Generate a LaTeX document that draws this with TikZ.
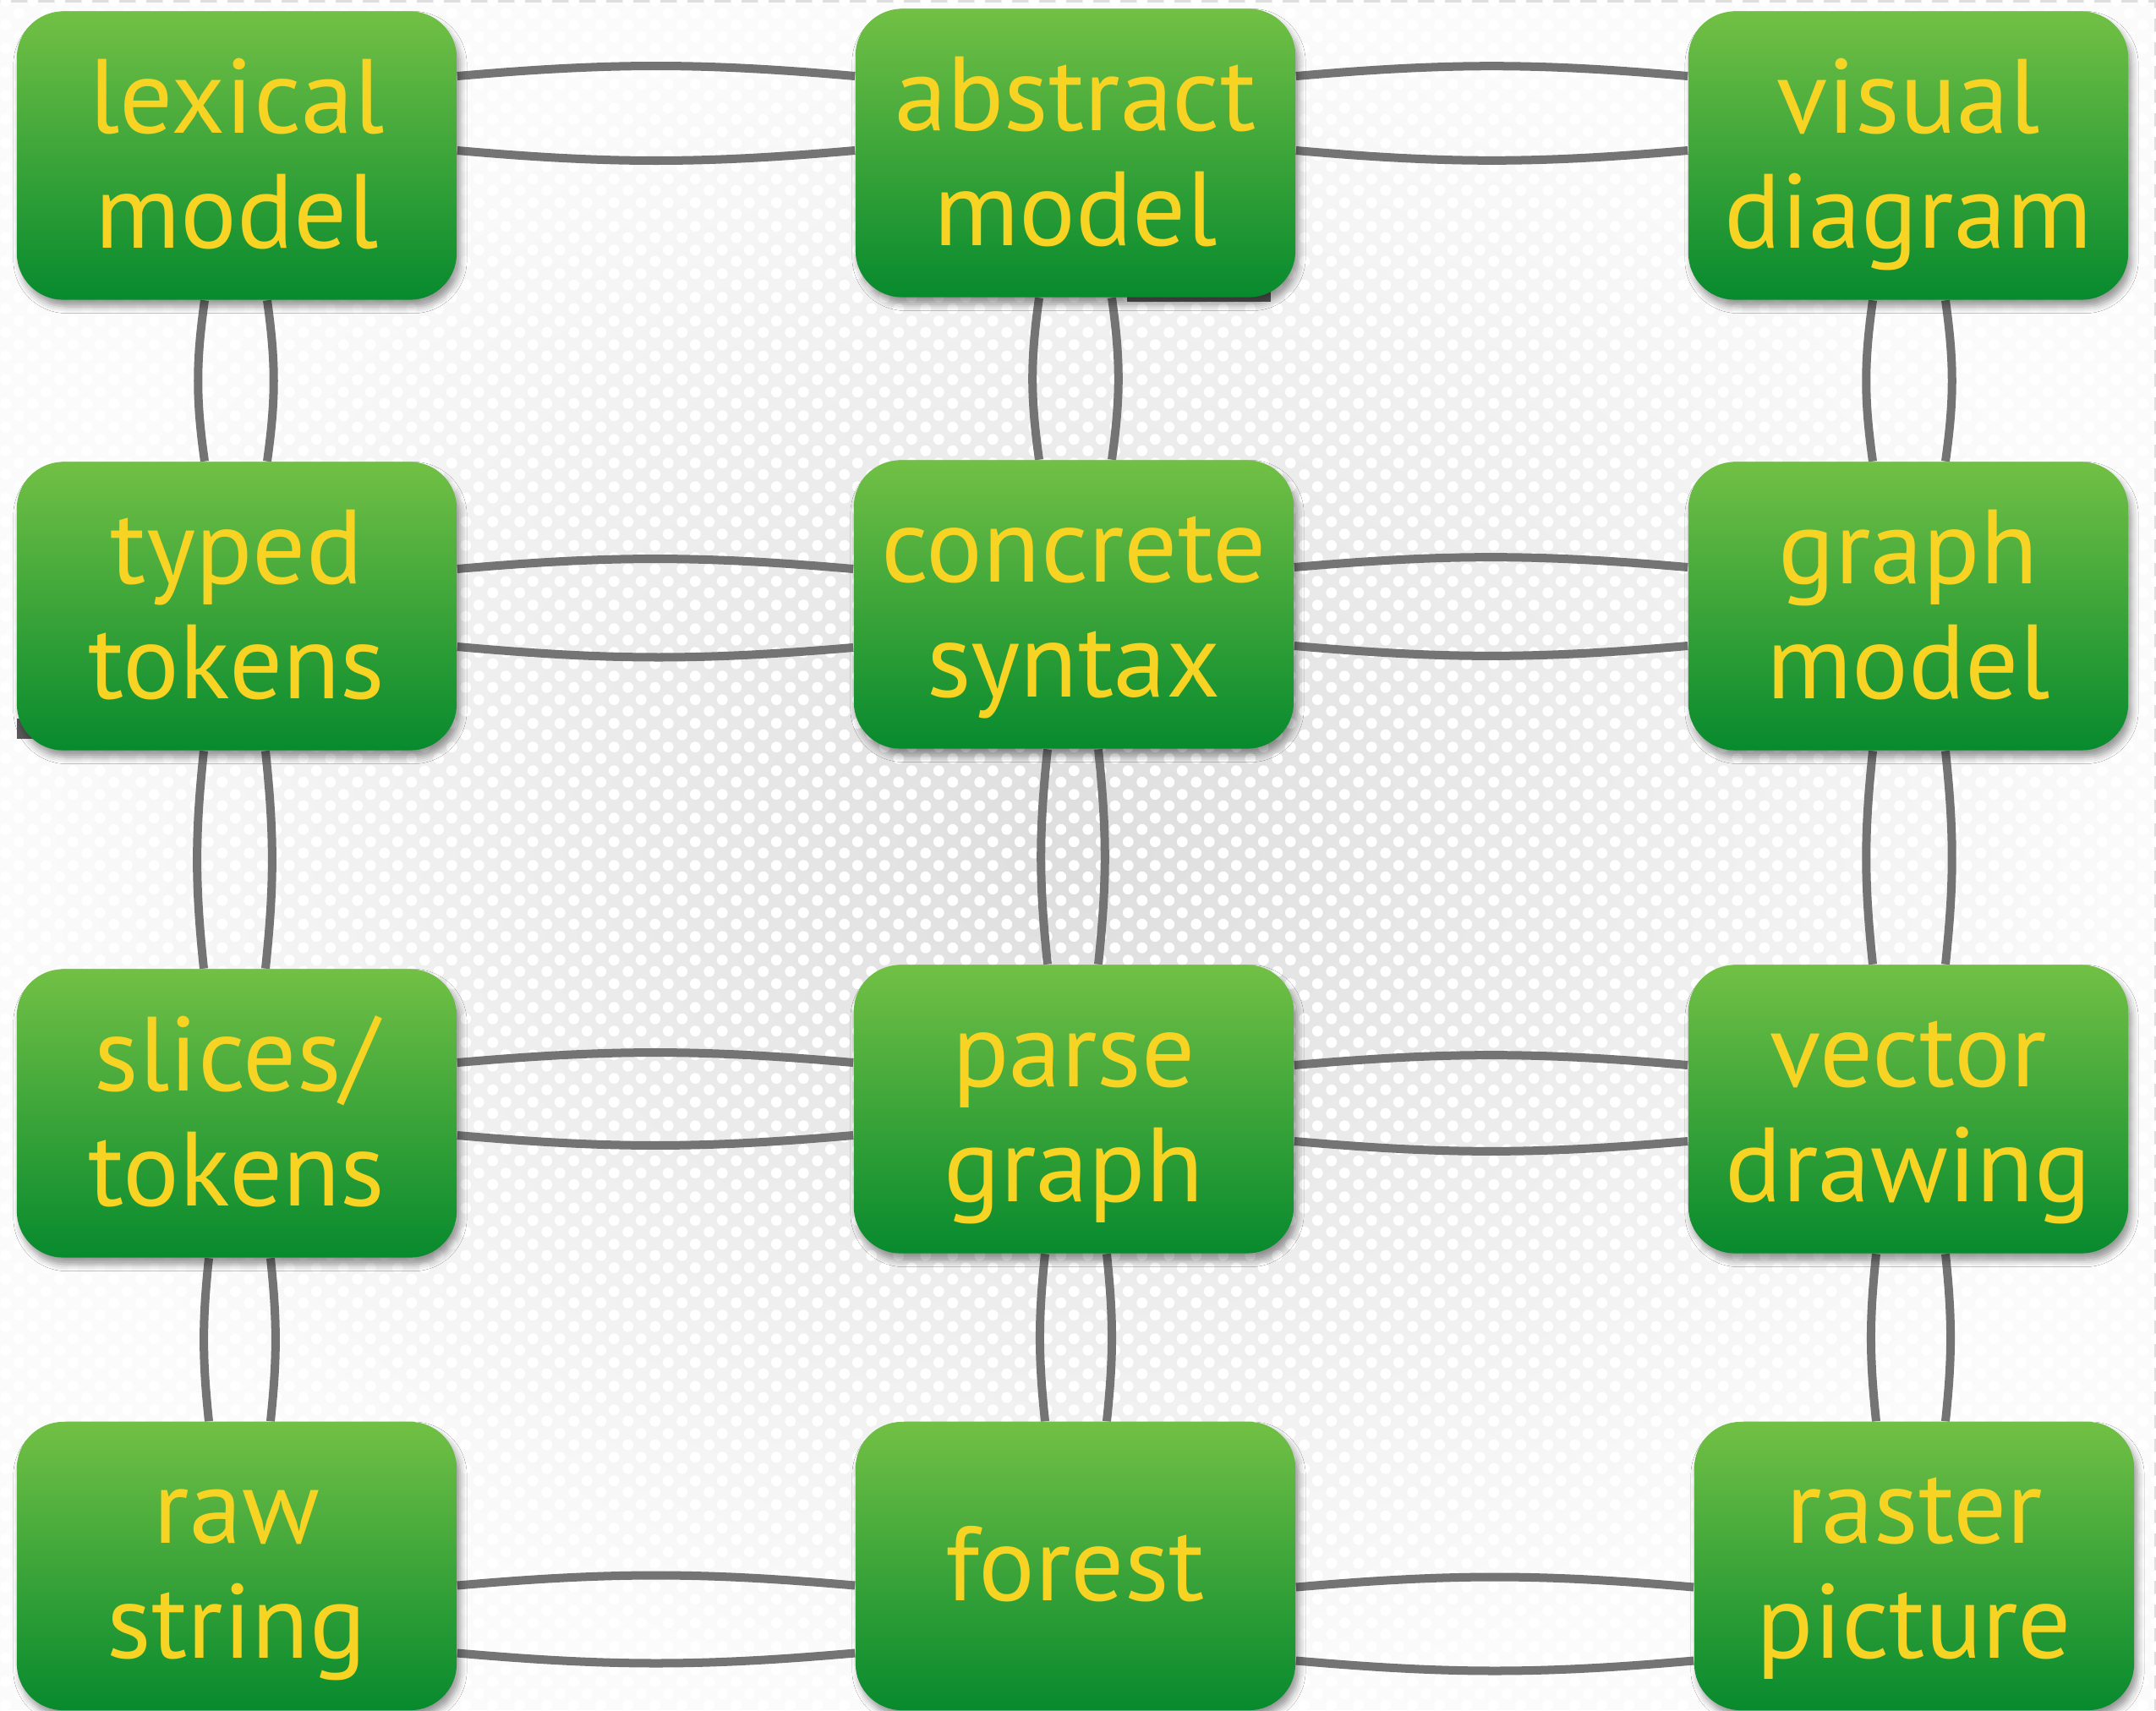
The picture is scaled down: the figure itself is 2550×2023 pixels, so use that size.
\documentclass[tikz,border=0pt]{standalone}
\usepackage{fontspec}
\setmainfont{PT Sans}
\usetikzlibrary{calc,shadows.blur,fadings,patterns}

\definecolor{gtop}{HTML}{72C045}
\definecolor{gbot}{HTML}{078A2E}
\definecolor{txtyellow}{HTML}{F7D423}
\definecolor{conncol}{HTML}{747474}
\definecolor{bggray}{HTML}{DEDEDE}
\definecolor{glitch}{HTML}{5A5A5A}

\pgfdeclarepatternformonly{bgdots}{\pgfpointorigin}{\pgfpoint{0.32cm}{0.28cm}}{\pgfpoint{0.32cm}{0.28cm}}{%
  \pgfpathcircle{\pgfpoint{0.08cm}{0.07cm}}{0.066cm}%
  \pgfpathcircle{\pgfpoint{0.24cm}{0.21cm}}{0.066cm}%
  \pgfusepath{fill}}

\tikzfading[name=vignette, inner color=transparent!100, outer color=transparent!10]

\pgfdeclarelayer{bglayer}
\pgfdeclarelayer{connlayer}
\pgfsetlayers{bglayer,connlayer,main}

\newcommand{\lstrut}{\rule[-7.65pt]{0pt}{38.7pt}}

\tikzset{
  stagebox/.style={rounded corners=0.55cm, minimum width=5.2cm, minimum height=3.41cm,
    inner sep=0pt, top color=gtop, bottom color=gbot, draw=none,
    blur shadow={shadow xshift=0.04cm, shadow yshift=-0.08cm, shadow blur radius=0.08cm, shadow opacity=40},
    text=txtyellow, align=center, font=\fontsize{35.5pt}{38.7pt}\selectfont},
  conn/.style={draw=conncol, line width=0.10cm},
}

\begin{document}
\begin{tikzpicture}[x=0.01cm, y=-0.01cm]
\useasboundingbox (0,0) rectangle (2550,2023);

% glitches behind boxes
\fill[glitch] (1333,340) rectangle (1503,357);
\fill[glitch] (20,850) rectangle (60,874);

% boxes
\node[stagebox] (lex) at (280,184)  {\lstrut lexical\\\lstrut model};
\node[stagebox] (abs) at (1272,181) {\lstrut abstract\\\lstrut model};
\node[stagebox] (vis) at (2257,184) {\lstrut visual\\\lstrut diagram};
\node[stagebox] (typ) at (280,717)  {\lstrut typed\\\lstrut tokens};
\node[stagebox] (con) at (1270,715) {\lstrut concrete\\\lstrut syntax};
\node[stagebox] (gra) at (2257,717) {\lstrut graph\\\lstrut model};
\node[stagebox] (sli) at (280,1317) {\lstrut slices/\\\lstrut tokens};
\node[stagebox] (par) at (1270,1312) {\lstrut parse\\\lstrut graph};
\node[stagebox] (vec) at (2257,1312) {\lstrut vector\\\lstrut drawing};
\node[stagebox] (raw) at (280,1852.5) {\lstrut raw\\\lstrut string};
\node[stagebox] (for) at (1272,1852.5) {\lstrut forest};
\node[stagebox] (ras) at (2264,1852.5) {\lstrut raster\\\lstrut picture};

\begin{pgfonlayer}{bglayer}
  \fill[bggray] (0,0) rectangle (2550,2023);
  \fill[pattern=bgdots, pattern color=white] (0,0) rectangle (2550,2023);
  \fill[white, path fading=vignette, fit fading=true] (0,0) rectangle (2550,2023);
\end{pgfonlayer}

\begin{pgfonlayer}{connlayer}
  % row 1
  \draw[conn] ($(lex.east)+(0,-94)$) to[bend left=5]  ($(abs.west)+(0,-91)$);
  \draw[conn] ($(lex.east)+(0,-6)$)  to[bend right=5] ($(abs.west)+(0,-3)$);
  \draw[conn] ($(abs.east)+(0,-91)$) to[bend left=5]  ($(vis.west)+(0,-94)$);
  \draw[conn] ($(abs.east)+(0,-3)$)  to[bend right=5] ($(vis.west)+(0,-6)$);
  % row 2
  \draw[conn] ($(typ.east)+(0,-44)$) to[bend left=5]  ($(con.west)+(0,-42)$);
  \draw[conn] ($(typ.east)+(0,48)$)  to[bend right=5] ($(con.west)+(0,51)$);
  \draw[conn] ($(con.east)+(0,-44)$) to[bend left=5]  ($(gra.west)+(0,-46)$);
  \draw[conn] ($(con.east)+(0,49)$)  to[bend right=5] ($(gra.west)+(0,47)$);
  % row 3
  \draw[conn] ($(sli.east)+(0,-60)$) to[bend left=5]  ($(par.west)+(0,-55)$);
  \draw[conn] ($(sli.east)+(0,26)$)  to[bend right=5] ($(par.west)+(0,31)$);
  \draw[conn] ($(par.east)+(0,-52)$) to[bend left=5]  ($(vec.west)+(0,-52)$);
  \draw[conn] ($(par.east)+(0,38)$)  to[bend right=5] ($(vec.west)+(0,38)$);
  % row 4
  \draw[conn] ($(raw.east)+(0,23)$)  to[bend left=5]  ($(for.west)+(0,23)$);
  \draw[conn] ($(raw.east)+(0,103)$) to[bend right=5] ($(for.west)+(0,103)$);
  \draw[conn] ($(for.east)+(0,25)$)  to[bend left=5]  ($(ras.west)+(0,25)$);
  \draw[conn] ($(for.east)+(0,112)$) to[bend right=5] ($(ras.west)+(0,112)$);
  % column 1
  \draw[conn] ($(lex.south)+(-38,0)$) to[bend right=8] ($(typ.north)+(-38,0)$);
  \draw[conn] ($(lex.south)+(36,0)$)  to[bend left=8]  ($(typ.north)+(36,0)$);
  \draw[conn] ($(typ.south)+(-39,0)$) to[bend right=6] ($(sli.north)+(-39,0)$);
  \draw[conn] ($(typ.south)+(34,0)$)  to[bend left=6]  ($(sli.north)+(34,0)$);
  \draw[conn] ($(sli.south)+(-33,0)$) to[bend right=6] ($(raw.north)+(-33,0)$);
  \draw[conn] ($(sli.south)+(40,0)$)  to[bend left=6]  ($(raw.north)+(40,0)$);
  % column 2
  \draw[conn] ($(abs.south)+(-43,0)$) to[bend right=8] ($(con.north)+(-41,0)$);
  \draw[conn] ($(abs.south)+(43,0)$)  to[bend left=8]  ($(con.north)+(45,0)$);
  \draw[conn] ($(con.south)+(-31,0)$) to[bend right=6] ($(par.north)+(-31,0)$);
  \draw[conn] ($(con.south)+(29,0)$)  to[bend left=6]  ($(par.north)+(29,0)$);
  \draw[conn] ($(par.south)+(-34,0)$) to[bend right=6] ($(for.north)+(-36,0)$);
  \draw[conn] ($(par.south)+(39,0)$)  to[bend left=6]  ($(for.north)+(37,0)$);
  % column 3
  \draw[conn] ($(vis.south)+(-42,0)$) to[bend right=8] ($(gra.north)+(-42,0)$);
  \draw[conn] ($(vis.south)+(44,0)$)  to[bend left=8]  ($(gra.north)+(44,0)$);
  \draw[conn] ($(gra.south)+(-42,0)$) to[bend right=6] ($(vec.north)+(-42,0)$);
  \draw[conn] ($(gra.south)+(44,0)$)  to[bend left=6]  ($(vec.north)+(44,0)$);
  \draw[conn] ($(vec.south)+(-38,0)$) to[bend right=6] ($(ras.north)+(-45,0)$);
  \draw[conn] ($(vec.south)+(44,0)$)  to[bend left=6]  ($(ras.north)+(37,0)$);
\end{pgfonlayer}
\end{tikzpicture}
\end{document}
